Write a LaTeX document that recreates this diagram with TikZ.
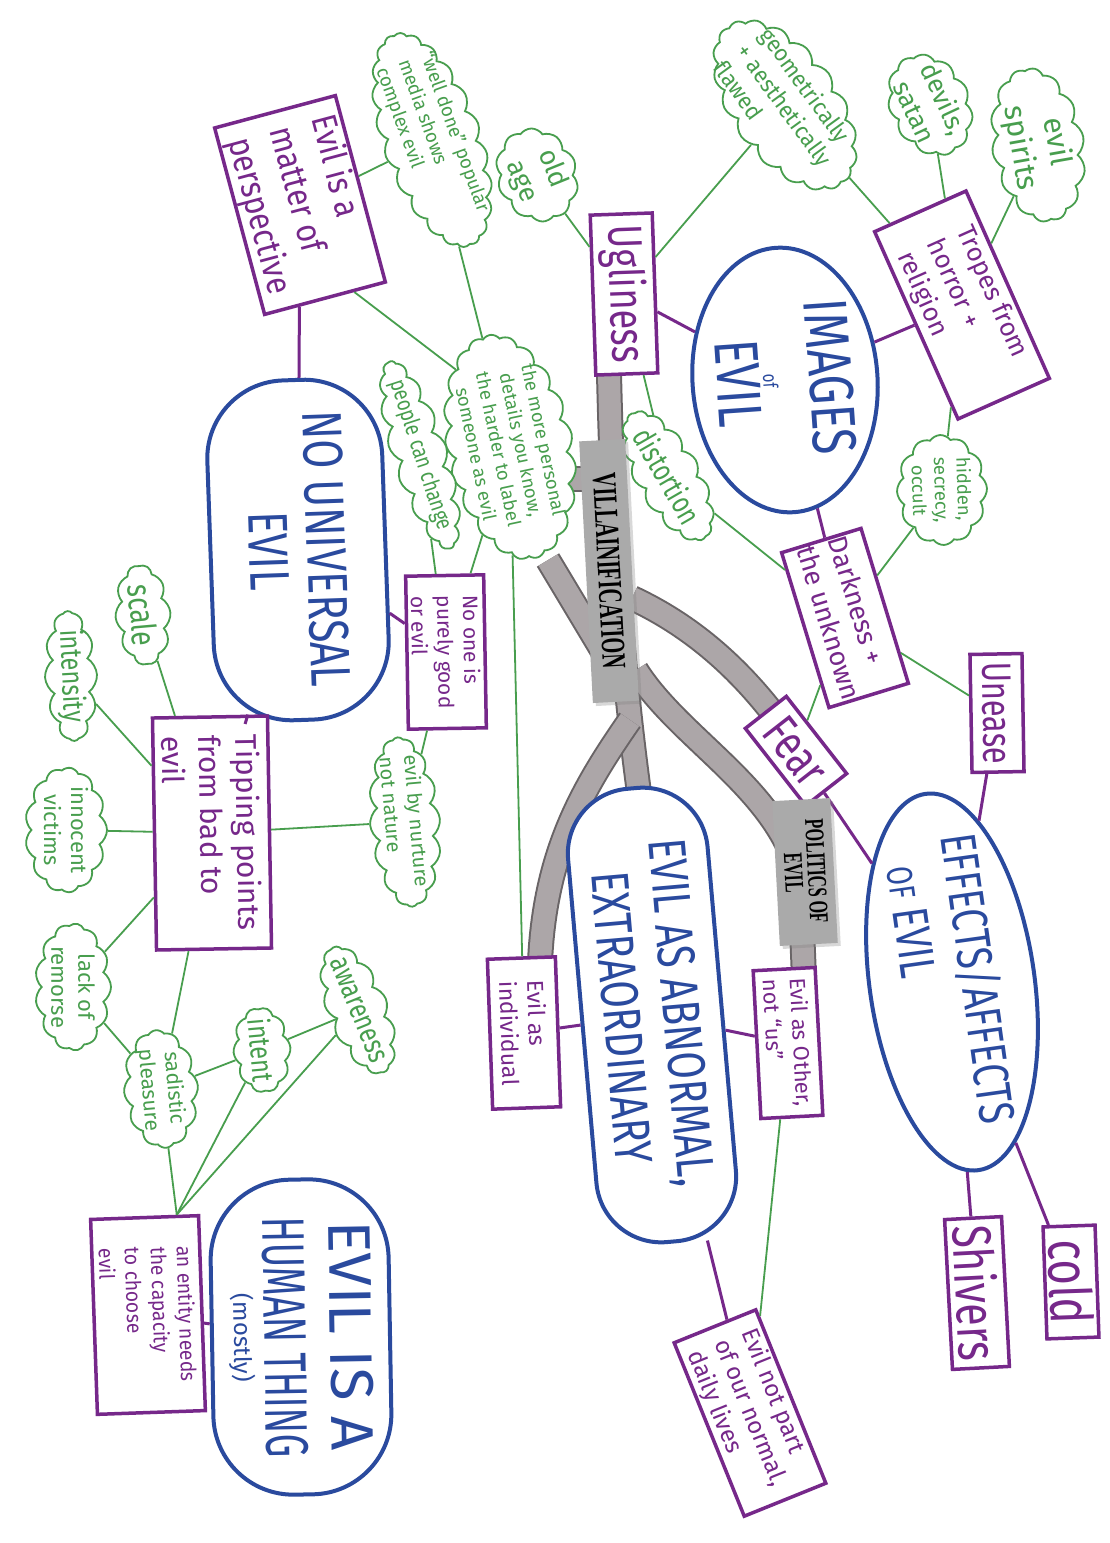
\documentclass[tikz,border=0pt]{standalone}
\usepackage{fontspec}
\usepackage{graphicx}
\setmainfont{Fira Sans}
\newfontfamily\handfont{Fira Sans}
\newfontfamily\tagfont{Liberation Serif}
\usetikzlibrary{shapes.symbols,shapes.geometric,shadows}
\definecolor{cblue}{RGB}{42,74,158}
\definecolor{cpurple}{RGB}{118,40,138}
\definecolor{cgreen}{RGB}{72,158,78}
\definecolor{bandfill}{RGB}{172,166,168}
\definecolor{bandedge}{RGB}{105,100,102}
\definecolor{taggray}{RGB}{170,170,170}
\newcommand{\hwf}[3]{\handfont\fontsize{#1}{#2}\selectfont\addfontfeatures{FakeStretch=#3}}
\tikzset{
  oval/.style={draw=cblue, line width=4pt, fill=white, text=cblue, rectangle, rounded corners=#1, inner sep=0pt, align=center},
  pbox/.style={draw=cpurple, line width=3.5pt, fill=white, text=cpurple, rectangle, inner sep=0pt, align=center},
  gcloud/.style={cloud, cloud puffs=#1, cloud puff arc=110, cloud ignores aspect, draw=cgreen, line width=1.8pt, fill=white, text=cgreen, inner sep=-8pt, align=center},
  gline/.style={draw=cgreen, line width=1.8pt},
  pline/.style={draw=cpurple, line width=3pt},
  band/.style={draw=bandedge, line width=2pt, double=bandfill, double distance=22pt},
  tag/.style={fill=taggray, inner sep=0pt, align=center, drop shadow={shadow xshift=3pt, shadow yshift=-3pt, opacity=0.3}, font=\tagfont\bfseries},
}
\begin{document}
\begin{tikzpicture}[x=1pt,y=-1pt]
\fill[white] (0,0) rectangle (1110,1543);
\useasboundingbox (0,0) rectangle (1110,1543);

% grey bands
\draw[band] (609,374) .. controls (612,500) and (618,640) .. (640,800);
\draw[band] (556,479) -- (608,479);
\draw[band] (548,560) -- (605,655);
\draw[band] (632,598) .. controls (690,625) and (735,665) .. (772,712);
\draw[band] (636,670) .. controls (680,740) and (780,790) .. (800,880) -- (804,978);
\draw[band] (630,720) .. controls (585,785) and (545,850) .. (540,962);

% main ovals
\node[oval=0pt, ellipse, inner sep=-10pt, rotate=-86, minimum width=265pt, minimum height=185pt, font={\hwf{62}{46}{0.75}}] (images) at (785,380) {IMAGES\\{\fontsize{20}{46}\selectfont of}\\EVIL};
\node[oval=78pt, rotate=-88, minimum width=340pt, minimum height=175pt, font={\hwf{56}{58}{0.75}}] (nouniv) at (298,550) {NO UNIVERSAL\\EVIL};
\node[oval=80pt, rotate=-89, minimum width=315pt, minimum height=178pt, font={\hwf{60}{66}{1}}] (human) at (301,1337) {EVIL IS A\\{\addfontfeatures{FakeStretch=0.62}HUMAN THING}\\[-36pt]{\fontsize{24}{26}\selectfont(mostly)}};
\node[oval=65pt, rotate=-85, minimum width=455pt, minimum height=140pt, font={\hwf{53}{60}{0.75}}] (abnormal) at (652,1015) {EVIL AS ABNORMAL,\\EXTRAORDINARY};
\node[oval=0pt, ellipse, inner xsep=-30pt, inner ysep=0pt, rotate=-82, minimum width=380pt, minimum height=165pt, align=left, font={\hwf{50}{58}{0.75}}] (effects) at (952,982) {EFFECTS/AFFECTS\\\hspace*{25pt}{\fontsize{36}{58}\selectfont OF} EVIL};

% purple boxes
\node[pbox, rotate=-75, minimum width=193pt, minimum height=125pt, align=left, font={\hwf{35}{43}{0.87}}] (persp) at (300,205) {Evil is a\\matter of\\perspective};
\node[pbox, rotate=-88, minimum width=160pt, minimum height=62pt, font={\hwf{48}{50}{0.75}}] (ugly) at (624,294) {Ugliness};
\node[pbox, rotate=-66, minimum width=205pt, minimum height=100pt, align=left, font={\hwf{26}{32}{1}}] (tropes) at (962,305) {Tropes from\\horror +\\religion};
\node[pbox, rotate=-73, minimum width=162pt, minimum height=83pt, align=left, font={\hwf{27}{33}{1}}] (dark) at (845,618) {Darkness +\\the unknown};
\node[pbox, rotate=-52, minimum width=98pt, minimum height=52pt, font={\hwf{50}{50}{0.75}}] (fear) at (796,751) {Fear};
\node[pbox, rotate=-89, minimum width=118pt, minimum height=52pt, font={\hwf{41}{41}{0.75}}] (unease) at (997,713) {Unease};
\node[pbox, rotate=-89, minimum width=153pt, minimum height=78pt, align=left, font={\hwf{21}{26}{1}}] (noone) at (446,652) {No one is\\purely good\\or evil};
\node[pbox, rotate=-89, minimum width=232pt, minimum height=115pt, align=left, font={\hwf{30}{37}{1}}] (tipping) at (212,833) {Tipping points\\from bad to\\evil};
\node[pbox, rotate=-88, minimum width=150pt, minimum height=68pt, align=left, font={\hwf{23}{28}{1}}] (indiv) at (524,1033) {Evil as\\individual};
\node[pbox, rotate=-87, minimum width=148pt, minimum height=62pt, align=left, font={\hwf{22}{27}{1}}] (other) at (788,1043) {Evil as Other,\\not “us”};
\node[pbox, rotate=-68, minimum width=187pt, minimum height=88pt, align=left, font={\hwf{24}{29}{1}}] (notpart) at (750,1413) {Evil not part\\of our normal,\\daily lives};
\node[pbox, rotate=-87, minimum width=150pt, minimum height=57pt, font={\hwf{55}{55}{0.75}}] (shivers) at (977,1293) {Shivers};
\node[pbox, rotate=-88, minimum width=112pt, minimum height=52pt, font={\hwf{58}{58}{0.75}}] (cold) at (1071,1282) {cold};
\node[pbox, rotate=-88, minimum width=195pt, minimum height=108pt, align=left, font={\hwf{21}{26}{0.92}}] (entity) at (148,1315) {an entity needs\\the capacity\\to choose\\evil};

% green clouds
\node[gcloud=22, rotate=-70, minimum width=225pt, minimum height=98pt, align=left, font={\hwf{19}{23.5}{0.98}}] (welldone) at (432,140) {“well done” popular\\media shows\\complex evil};
\node[gcloud=10, rotate=-68, minimum width=95pt, minimum height=80pt, font={\hwf{27}{33}{1}}] (oldage) at (537,175) {old\\age};
\node[gcloud=18, rotate=-54, minimum width=195pt, minimum height=108pt, align=left, font={\hwf{23}{28.5}{0.96}}] (geom) at (785,105) {geometrically\\+ aesthetically\\flawed};
\node[gcloud=11, rotate=-65, minimum width=105pt, minimum height=80pt, font={\hwf{26}{32}{1}}] (devils) at (930,105) {devils,\\satan};
\node[gcloud=14, rotate=-80, minimum width=155pt, minimum height=92pt, font={\hwf{30}{37}{1}}] (spirits) at (1038,145) {evil\\spirits};
\node[gcloud=12, rotate=-88, minimum width=110pt, minimum height=90pt, font={\hwf{18.5}{22.5}{1}}] (hidden) at (942,490) {hidden,\\secrecy,\\occult};
\node[gcloud=15, rotate=-60, minimum width=145pt, minimum height=64pt, font={\hwf{31}{32}{0.75}}] (distort) at (668,476) {distortion};
\node[gcloud=21, rotate=-78, minimum width=228pt, minimum height=126pt, font={\hwf{18.5}{23}{1}}] (personal) at (510,447) {the more personal\\details you know,\\the harder to label\\someone as evil};
\node[gcloud=17, rotate=-72, minimum width=185pt, minimum height=55pt, font={\hwf{23}{25}{0.8}}] (people) at (420,455) {people can change};
\node[gcloud=10, rotate=-85, minimum width=100pt, minimum height=55pt, font={\hwf{34}{36}{0.78}}] (scale) at (143,615) {scale};
\node[gcloud=12, rotate=-87, minimum width=130pt, minimum height=52pt, font={\hwf{30}{32}{0.78}}] (intensity) at (71,676) {intensity};
\node[gcloud=13, rotate=-90, minimum width=125pt, minimum height=82pt, font={\hwf{22}{27}{1}}] (innocent) at (66,830) {innocent\\victims};
\node[gcloud=16, rotate=-85, minimum width=170pt, minimum height=70pt, align=left, font={\hwf{20}{24.5}{1}}] (nurture) at (405,822) {evil by nurture\\not nature};
\node[gcloud=13, rotate=-90, minimum width=127pt, minimum height=76pt, font={\hwf{22}{27}{1}}] (remorse) at (73,987) {lack of\\remorse};
\node[gcloud=12, rotate=-85, minimum width=118pt, minimum height=74pt, font={\hwf{21}{25.5}{1}}] (sadistic) at (161,1089) {sadistic\\pleasure};
\node[gcloud=10, rotate=-85, minimum width=85pt, minimum height=57pt, font={\hwf{30}{31}{0.78}}] (intent) at (262,1050) {intent};
\node[gcloud=13, rotate=-68, minimum width=135pt, minimum height=60pt, font={\hwf{30}{31}{0.78}}] (aware) at (358,1010) {awareness};

% purple connectors
\draw[pline] (persp) -- (nouniv);
\draw[pline] (nouniv) -- (noone);
\draw[pline] (nouniv) -- (tipping);
\draw[pline] (images) -- (ugly);
\draw[pline] (images) -- (tropes);
\draw[pline] (images) -- (dark);
\draw[pline] (fear) -- (effects);
\draw[pline] (unease) -- (effects);
\draw[pline] (effects) -- (shivers);
\draw[pline] (effects) -- (cold);
\draw[pline] (abnormal) -- (indiv);
\draw[pline] (abnormal) -- (other);
\draw[pline] (abnormal) -- (notpart);
\draw[pline] (human) -- (entity);

% green connectors
\draw[gline] (persp.17) -- (personal.203);
\draw[gline] (persp) -- (welldone);
\draw[gline] (welldone) -- (personal);
\draw[gline] (oldage) -- (ugly);
\draw[gline] (geom) -- (ugly);
\draw[gline] (tropes) -- (devils);
\draw[gline] (tropes) -- (spirits);
\draw[gline] (tropes) -- (geom);
\draw[gline] (tropes) -- (hidden);
\draw[gline] (ugly) -- (distort);
\draw[gline] (dark) -- (distort);
\draw[gline] (dark) -- (hidden);
\draw[gline] (dark) -- (fear);
\draw[gline] (dark) -- (unease);
\draw[gline] (personal) -- (people);
\draw[gline] (personal) -- (noone);
\draw[gline] (people) -- (noone);
\draw[gline] (personal) -- (indiv);
\draw[gline] (noone) -- (nurture);
\draw[gline] (tipping) -- (nurture);
\draw[gline] (tipping) -- (scale);
\draw[gline] (tipping) -- (intensity);
\draw[gline] (tipping) -- (innocent);
\draw[gline] (tipping) -- (remorse);
\draw[gline] (tipping) -- (sadistic);
\draw[gline] (remorse) -- (sadistic);
\draw[gline] (sadistic) -- (intent);
\draw[gline] (intent) -- (aware);
\draw[gline] (sadistic) -- (entity.162);
\draw[gline] (intent) -- (entity.162);
\draw[gline] (aware) -- (entity.162);
\draw[gline] (other) -- (notpart);

% grey tags
\node[tag, rotate=-87, minimum width=262pt, minimum height=46pt] (villain) at (609,571) {\scalebox{0.6}[1]{\fontsize{34}{34}\selectfont VILLAINIFICATION}};
\node[tag, rotate=-87, minimum width=145pt, minimum height=58pt, font={\tagfont\bfseries\fontsize{27}{23}\selectfont}] (politics) at (805,872) {\scalebox{0.6}[1]{POLITICS OF}\\\scalebox{0.6}[1]{EVIL}};
\end{tikzpicture}
\end{document}
